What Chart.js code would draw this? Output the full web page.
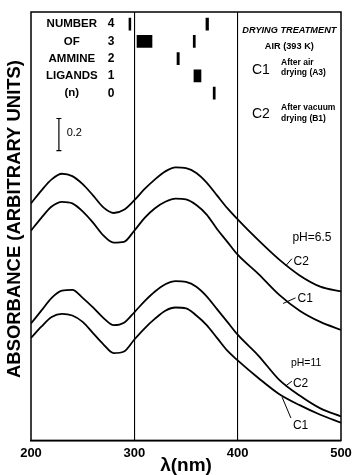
<!DOCTYPE html>
<html>
<head>
  <title>Absorbance spectra</title>
  <style>
    body { margin: 0; background: #fff; }
  </style>
</head>
<body>
  <canvas id="spectra" width="353" height="475"></canvas>

  <script src="https://cdn.jsdelivr.net/npm/chart.js"></script>
  <script>
    // wavelength grid (nm) shared by the four spectra
    const wavelengths = [200, 210, 220, 230, 240, 250, 260, 270, 280, 290, 300, 310, 320, 330, 340, 350, 360, 370, 380, 390, 400, 420, 440, 460, 480, 500];
    // absorbance (arbitrary units)
    const ph65C2 = [1.48, 1.56, 1.63, 1.665, 1.65, 1.60, 1.53, 1.455, 1.42, 1.44, 1.50, 1.57, 1.63, 1.68, 1.705, 1.70, 1.67, 1.61, 1.53, 1.45, 1.38, 1.25, 1.13, 1.03, 0.96, 0.93];
    const ph65C1 = [1.31, 1.39, 1.46, 1.49, 1.48, 1.43, 1.36, 1.28, 1.235, 1.24, 1.31, 1.39, 1.45, 1.49, 1.51, 1.505, 1.47, 1.41, 1.32, 1.24, 1.16, 1.04, 0.91, 0.81, 0.74, 0.69];
    const ph11C2 = [0.73, 0.81, 0.89, 0.935, 0.94, 0.89, 0.83, 0.765, 0.72, 0.735, 0.80, 0.87, 0.93, 0.975, 0.995, 0.99, 0.96, 0.90, 0.82, 0.74, 0.66, 0.53, 0.38, 0.28, 0.20, 0.15];
    const ph11C1 = [0.64, 0.71, 0.77, 0.79, 0.78, 0.74, 0.67, 0.60, 0.545, 0.555, 0.63, 0.70, 0.76, 0.81, 0.83, 0.825, 0.78, 0.72, 0.64, 0.56, 0.50, 0.39, 0.29, 0.22, 0.16, 0.11];

    // inset: number of ammine ligands n and the wavelength band (nm) of each mark
    const ligandN    = [4, 4, 3, 3, 2, 1, 0];
    const ligandFrom = [294.8, 369.3, 302.6, 357.0, 341.3, 357.7, 376.3];
    const ligandTo   = [296.6, 371.8, 317.1, 359.0, 343.5, 364.5, 378.3];

    // 0.2 absorbance scale bar
    const scaleBarNm = 227;
    const scaleBarA = [1.81, 2.01];

    const xTicks = [200, 300, 400, 500];

    const FONT = '"Liberation Sans", Arial, sans-serif';

    function curve(values) {
      return {
        data: wavelengths.map((w, i) => ({ x: w, y: values[i] })),
        borderColor: '#000',
        borderWidth: 1.8,
        pointRadius: 0,
        cubicInterpolationMode: 'monotone',
        fill: false
      };
    }

    // text placed in data units: nm on x, absorbance (y) or n (yN)
    const notes = [
      { t: 'NUMBER', x: 239.5, n: 4, f: 'bold 11.5px', a: 'center' },
      { t: 'OF', x: 239.5, n: 3, f: 'bold 11.5px', a: 'center' },
      { t: 'AMMINE', x: 239.5, n: 2, f: 'bold 11.5px', a: 'center' },
      { t: 'LIGANDS', x: 239.5, n: 1, f: 'bold 11.5px', a: 'center' },
      { t: '(n)', x: 239.5, n: 0, f: 'bold 11.5px', a: 'center' },
      { t: '4', x: 277.5, n: 4, f: 'bold 12px', a: 'center' },
      { t: '3', x: 277.5, n: 3, f: 'bold 12px', a: 'center' },
      { t: '2', x: 277.5, n: 2, f: 'bold 12px', a: 'center' },
      { t: '1', x: 277.5, n: 1, f: 'bold 12px', a: 'center' },
      { t: '0', x: 277.5, n: 0, f: 'bold 12px', a: 'center' },
      { t: 'DRYING TREATMENT', x: 450, y: 2.56, f: 'italic bold 9.2px', a: 'center' },
      { t: 'AIR (393 K)', x: 450, y: 2.46, f: 'bold 9.2px', a: 'center' },
      { t: 'C1', x: 422.5, y: 2.31, f: '14px', a: 'center' },
      { t: 'After air', x: 442, y: 2.36, f: 'bold 8.5px', a: 'left' },
      { t: 'drying (A3)', x: 442, y: 2.295, f: 'bold 8.5px', a: 'left' },
      { t: 'C2', x: 422.5, y: 2.04, f: '14px', a: 'center' },
      { t: 'After vacuum', x: 442, y: 2.08, f: 'bold 8.5px', a: 'left' },
      { t: 'drying (B1)', x: 442, y: 2.01, f: 'bold 8.5px', a: 'left' },
      { t: '0.2', x: 234.5, y: 1.92, f: '11px', a: 'left' },
      { t: 'pH=6.5', x: 453, y: 1.265, f: '12px', a: 'left' },
      { t: 'C2', x: 454, y: 1.115, f: '12px', a: 'left' },
      { t: 'C1', x: 458, y: 0.885, f: '12px', a: 'left' },
      { t: 'pH=11', x: 451.5, y: 0.485, f: '10.5px', a: 'left' },
      { t: 'C2', x: 453.5, y: 0.352, f: '12px', a: 'left' },
      { t: 'C1', x: 453.5, y: 0.09, f: '12px', a: 'left' }
    ];
    // short leader lines from curve to its label
    const leaders = [
      [446.5, 1.09, 452.5, 1.135],
      [444, 0.855, 456, 0.89],
      [446.5, 0.34, 452.5, 0.37],
      [443, 0.27, 451.5, 0.14]
    ];

    const decorations = {
      id: 'decorations',
      afterDatasetsDraw(chart) {
        const { ctx, chartArea: a, scales } = chart;
        const x = scales.x, y = scales.y, yN = scales.yN;
        ctx.save();
        ctx.strokeStyle = '#000';
        ctx.fillStyle = '#000';

        // frame
        ctx.lineWidth = 1.5;
        ctx.strokeRect(a.left, a.top, a.right - a.left, a.bottom - a.top);

        // leaders
        ctx.lineWidth = 1;
        leaders.forEach(l => {
          ctx.beginPath();
          ctx.moveTo(x.getPixelForValue(l[0]), y.getPixelForValue(l[1]));
          ctx.lineTo(x.getPixelForValue(l[2]), y.getPixelForValue(l[3]));
          ctx.stroke();
        });

        // annotations
        ctx.textBaseline = 'middle';
        notes.forEach(n => {
          ctx.font = n.f + ' ' + FONT;
          ctx.textAlign = n.a;
          const py = n.n !== undefined ? yN.getPixelForValue(n.n) : y.getPixelForValue(n.y);
          ctx.fillText(n.t, x.getPixelForValue(n.x), py);
        });

        // axis titles
        ctx.textAlign = 'center';
        ctx.font = 'bold 19px ' + FONT;
        ctx.save();
        ctx.translate(15, 219);
        ctx.rotate(-Math.PI / 2);
        const label = 'ABSORBANCE (ARBITRARY UNITS)';
        const w = ctx.measureText(label).width;
        ctx.scale(318 / w, 1);
        ctx.fillText(label, 0, 0);
        ctx.restore();

        ctx.font = 'bold 19px ' + FONT;
        ctx.fillText('\u03bb(nm)', (a.left + a.right) / 2, 466);
        ctx.restore();
      }
    };

    const ctx = document.getElementById('spectra').getContext('2d');
    new Chart(ctx, {
      type: 'line',
      data: {
        datasets: [
          curve(ph65C2),
          curve(ph65C1),
          curve(ph11C2),
          curve(ph11C1),
          {
            type: 'bar',
            indexAxis: 'y',
            xAxisID: 'x',
            yAxisID: 'yN',
            data: ligandN.map((n, i) => ({ y: n, x: [ligandFrom[i], ligandTo[i]] })),
            backgroundColor: '#000',
            barThickness: 12,
            grouped: false
          },
          {
            data: scaleBarA.map(v => ({ x: scaleBarNm, y: v })),
            borderColor: '#000',
            borderWidth: 1.2,
            pointStyle: 'line',
            pointRadius: 2.5,
            pointBorderWidth: 1.2,
            pointBorderColor: '#000'
          }
        ]
      },
      options: {
        responsive: false,
        animation: false,
        layout: { padding: { left: 31, top: 12, right: 12, bottom: 9 } },
        plugins: { legend: { display: false }, tooltip: { enabled: false } },
        scales: {
          x: {
            type: 'linear',
            min: 200,
            max: 500,
            offset: false,
            afterBuildTicks: s => { s.ticks = xTicks.map(v => ({ value: v })); },
            afterFit: s => { s.paddingLeft = 0; s.paddingRight = 0; },
            grid: {
              color: c => (c.tick && (c.tick.value === 300 || c.tick.value === 400)) ? '#000' : 'rgba(0,0,0,0)',
              lineWidth: 1.1,
              drawTicks: false,
              offset: false
            },
            border: { color: '#000', width: 1.5 },
            ticks: { color: '#000', padding: 5, maxRotation: 0, font: { family: FONT, size: 13, weight: 'bold' } }
          },
          y: { type: 'linear', min: 0, max: 2.675, display: false },
          yN: { type: 'linear', min: -20.1, max: 4.7, offset: false, grid: { offset: false }, display: false }
        }
      },
      plugins: [decorations]
    });
  </script>
</body>
</html>
